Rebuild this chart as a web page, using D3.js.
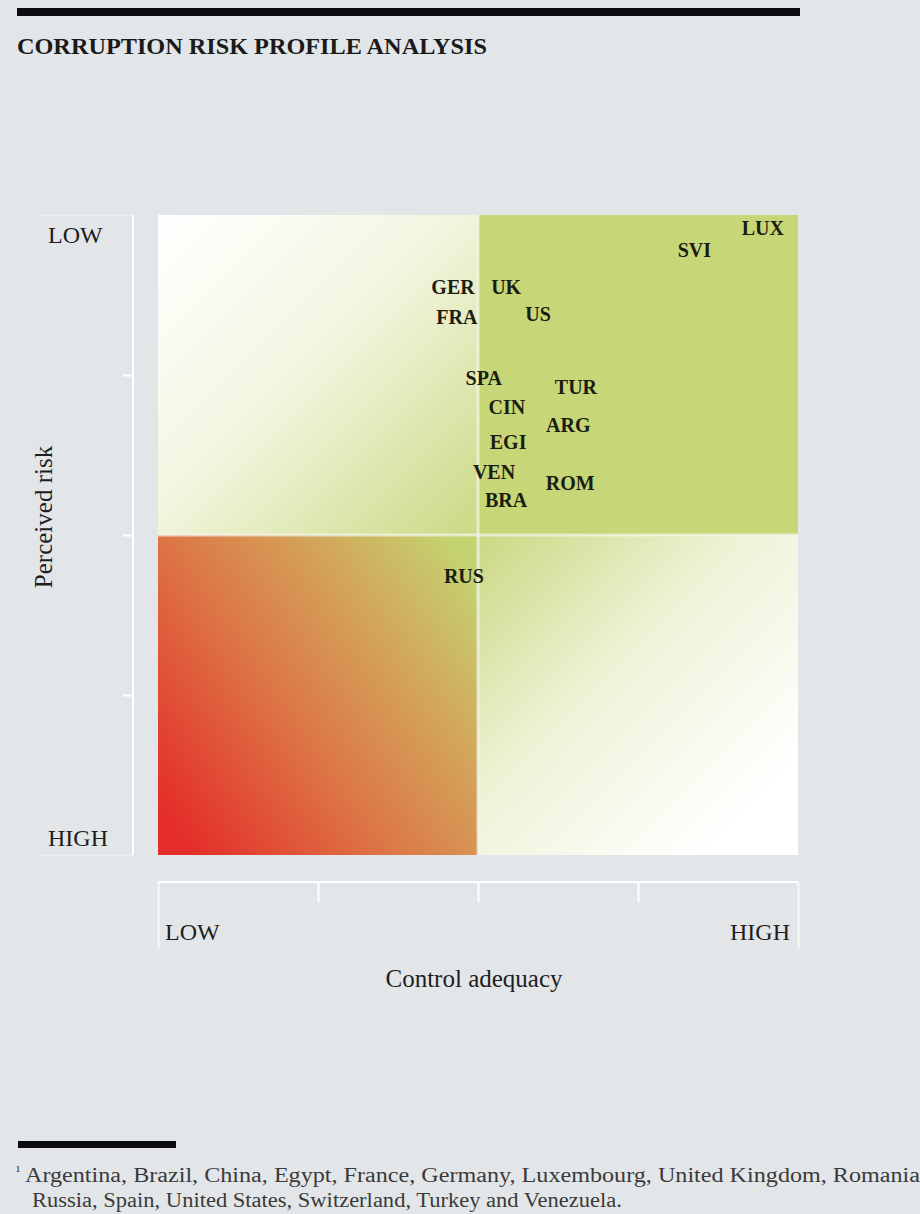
<!DOCTYPE html>
<html>
<head>
<meta charset="utf-8">
<script src="https://cdn.jsdelivr.net/npm/d3@7"></script>
<style>
  html, body { margin: 0; padding: 0; background: #e3e6e8; }
  svg { display: block; }
  .serif { font-family: "Liberation Serif", "DejaVu Serif", serif; }
</style>
</head>
<body>
<svg id="chart" width="920" height="1214"></svg>
<script>
// Country codes as printed on the matrix
const countries = ["LUX", "SVI", "GER", "UK", "FRA", "US", "SPA", "TUR", "CIN", "ARG", "EGI", "VEN", "ROM", "BRA", "RUS"];
// Control adequacy score, 0 = low, 100 = high
const controlAdequacy = [94.5, 83.8, 46.1, 54.4, 46.7, 59.4, 50.9, 65.3, 54.5, 64.1, 54.7, 52.5, 64.4, 54.4, 47.8];
// Perceived risk score, 0 = low (top), 100 = high (bottom)
const perceivedRisk = [2.0, 5.4, 11.3, 11.3, 15.9, 15.4, 25.5, 26.8, 30.0, 32.8, 35.4, 40.1, 41.9, 44.5, 56.4];

const axisTicks = [0, 25, 50, 75, 100];
const xEndLabels = ["LOW", "HIGH"];
const yEndLabels = ["LOW", "HIGH"];

const title = "CORRUPTION RISK PROFILE ANALYSIS";
const xTitle = "Control adequacy";
const yTitle = "Perceived risk";
const footnoteMark = "\u00B9";
const footnote = [
  "Argentina, Brazil, China, Egypt, France, Germany, Luxembourg, United Kingdom, Romania",
  "Russia, Spain, United States, Switzerland, Turkey and Venezuela."
];

const svg = d3.select("#chart");
const plot = { left: 158, top: 215, right: 798, bottom: 855 };

const x = d3.scaleLinear().domain([0, 100]).range([plot.left, plot.right]);
const y = d3.scaleLinear().domain([0, 100]).range([plot.top, plot.bottom]);

// Header rule and title
svg.append("rect").attr("x", 17).attr("y", 8).attr("width", 783).attr("height", 8).attr("fill", "#0b0b10");
svg.append("text").attr("class", "serif").attr("x", 17).attr("y", 54)
  .attr("font-size", 23).attr("font-weight", "bold").attr("fill", "#1a1a1a")
  .attr("textLength", 470).attr("lengthAdjust", "spacingAndGlyphs")
  .text(title);

// Quadrant gradients
const defs = svg.append("defs");
function grad(id, x1, y1, x2, y2, stops) {
  const g = defs.append("linearGradient").attr("id", id)
    .attr("x1", x1).attr("y1", y1).attr("x2", x2).attr("y2", y2);
  stops.forEach(s => g.append("stop").attr("offset", s[0]).attr("stop-color", s[1]));
}
grad("gTL", 0, 0, 1, 1, [[0, "#ffffff"], [0.45, "#f4f6e2"], [1, "#cbd984"]]);
grad("gBL", 0, 0.85, 1, 0.15, [[0, "#e42d29"], [0.4, "#dd7445"], [0.72, "#d3a55a"], [1, "#c4d270"]]);
grad("gBR", 0, 0, 0.85, 0.85, [[0, "#cbd882"], [0.5, "#eff3d8"], [1, "#ffffff"]]);

const quadrants = [
  { x0: 0, x1: 50, y0: 0, y1: 50, fill: "url(#gTL)" },
  { x0: 50, x1: 100, y0: 0, y1: 50, fill: "#c7d777" },
  { x0: 0, x1: 50, y0: 50, y1: 100, fill: "url(#gBL)" },
  { x0: 50, x1: 100, y0: 50, y1: 100, fill: "url(#gBR)" }
];
svg.append("g").selectAll("rect").data(quadrants).join("rect")
  .attr("x", d => x(d.x0)).attr("y", d => y(d.y0))
  .attr("width", d => x(d.x1) - x(d.x0)).attr("height", d => y(d.y1) - y(d.y0))
  .attr("fill", d => d.fill);

// Pale dividers between quadrants
svg.append("line").attr("x1", x(50)).attr("x2", x(50)).attr("y1", y(0)).attr("y2", y(100))
  .attr("stroke", "#f4f6ec").attr("stroke-opacity", 0.7).attr("stroke-width", 3);
svg.append("line").attr("x1", x(0)).attr("x2", x(100)).attr("y1", y(50)).attr("y2", y(50))
  .attr("stroke", "#f4f6ec").attr("stroke-opacity", 0.7).attr("stroke-width", 3);

// Y axis (white rule with ticks pointing left)
const yAxisX = 133;
const yAxis = d3.axisLeft(y).tickValues(axisTicks).tickSize(10).tickFormat("");
const gy = svg.append("g").attr("transform", `translate(${yAxisX},0)`).call(yAxis);
gy.select(".domain").attr("stroke", "#ffffff").attr("stroke-width", 2).attr("d", `M0,${y(0)}V${y(100)}`);
gy.selectAll(".tick line").attr("stroke", "#ffffff").attr("stroke-width", 2)
  .attr("x2", d => (d === 0 || d === 100) ? -93 : -10)
  .attr("stroke-opacity", d => (d === 0 || d === 100) ? 0.35 : 1);

// X axis (white rule with ticks pointing down)
const xAxisY = 882;
const xAxis = d3.axisBottom(x).tickValues(axisTicks).tickSize(20).tickFormat("");
const gx = svg.append("g").attr("transform", `translate(0,${xAxisY})`).call(xAxis);
gx.select(".domain").attr("stroke", "#ffffff").attr("stroke-width", 2).attr("d", `M${x(0)},0H${x(100)}`);
gx.selectAll(".tick line").attr("stroke", "#ffffff").attr("stroke-width", 2)
  .attr("y2", d => (d === 0 || d === 100) ? 66 : 20)
  .attr("stroke-opacity", d => (d === 0 || d === 100) ? 0.7 : 1);

// End labels
svg.append("g").selectAll("text").data(yEndLabels).join("text").attr("class", "serif")
  .attr("x", 48).attr("y", (d, i) => i === 0 ? 243 : 846)
  .attr("font-size", 24).attr("fill", "#1e1e1e").text(d => d);
svg.append("g").selectAll("text").data(xEndLabels).join("text").attr("class", "serif")
  .attr("x", (d, i) => i === 0 ? x(0) + 7 : x(100) - 8)
  .attr("text-anchor", (d, i) => i === 0 ? "start" : "end")
  .attr("y", 940).attr("font-size", 24).attr("fill", "#1e1e1e").text(d => d);

// Axis titles
svg.append("text").attr("class", "serif").attr("x", 474).attr("y", 987)
  .attr("text-anchor", "middle").attr("font-size", 25).attr("fill", "#1e1e1e").text(xTitle);
svg.append("text").attr("class", "serif")
  .attr("transform", `translate(52,517) rotate(-90)`)
  .attr("text-anchor", "middle").attr("font-size", 25).attr("fill", "#1e1e1e").text(yTitle);

// Country labels
const points = countries.map((c, i) => ({ code: c, cx: controlAdequacy[i], risk: perceivedRisk[i] }));
svg.append("g").selectAll("text").data(points).join("text").attr("class", "serif")
  .attr("x", d => x(d.cx)).attr("y", d => y(d.risk))
  .attr("text-anchor", "middle").attr("dominant-baseline", "central")
  .attr("font-size", 20).attr("font-weight", "bold").attr("fill", "#1b1d12")
  .text(d => d.code);

// Footnote
svg.append("rect").attr("x", 18).attr("y", 1141).attr("width", 158).attr("height", 7).attr("fill", "#0b0b10");
svg.append("text").attr("class", "serif").attr("x", 16).attr("y", 1176)
  .attr("font-size", 14).attr("fill", "#3a3a3a").text(footnoteMark);
svg.append("g").selectAll("text").data(footnote).join("text").attr("class", "serif")
  .attr("x", (d, i) => i === 0 ? 25 : 32).attr("y", (d, i) => 1182 + i * 25)
  .attr("font-size", 20).attr("fill", "#3a3a3a")
  .attr("textLength", (d, i) => i === 0 ? 895 : 590).attr("lengthAdjust", "spacingAndGlyphs")
  .text(d => d);
</script>
</body>
</html>
